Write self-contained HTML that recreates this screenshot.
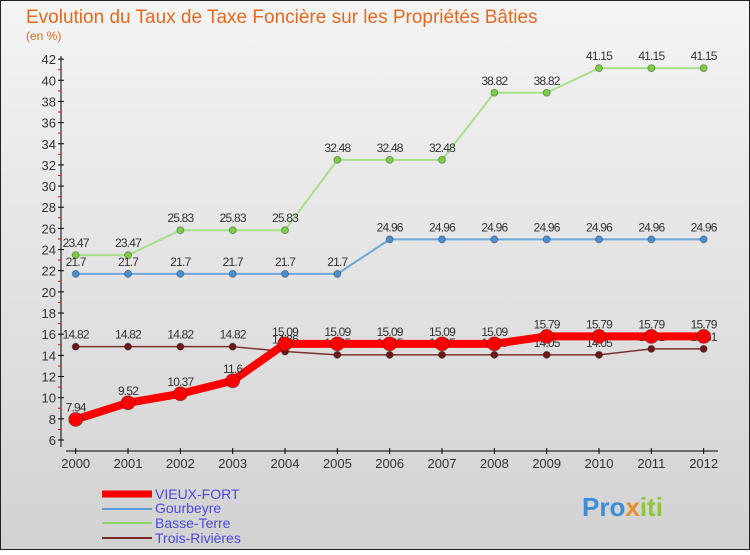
<!DOCTYPE html>
<html><head><meta charset="utf-8"><style>
body{margin:0;width:750px;height:550px;overflow:hidden;font-family:"Liberation Sans",sans-serif}
</style></head><body>
<svg id="c" width="750" height="550" xmlns="http://www.w3.org/2000/svg">
<defs><linearGradient id="bg" x1="0" y1="0" x2="0" y2="1"><stop offset="0" stop-color="#f4f4f4"/><stop offset="1" stop-color="#d2d2d2"/></linearGradient></defs>
<rect x="0.5" y="0.5" width="749" height="549" fill="url(#bg)" stroke="#222"/>
<text x="26" y="23" font-size="19" fill="#e06a1f">Evolution du Taux de Taxe Foncière sur les Propriétés Bâties</text>
<text x="26" y="40" font-size="12" fill="#e06a1f">(en %)</text>
<g id="axes"></g><g id="series"></g>
<g>
<line x1="102" y1="494" x2="152" y2="494" stroke="#f00" stroke-width="7"/>
<text x="155" y="499" font-size="14" fill="#4a4ae0">VIEUX-FORT</text>
<line x1="102" y1="509" x2="152" y2="509" stroke="#5b9bd5" stroke-width="2"/>
<text x="155" y="513" font-size="14" fill="#4a4ae0">Gourbeyre</text>
<line x1="102" y1="523" x2="152" y2="523" stroke="#8fd46a" stroke-width="2"/>
<text x="155" y="528" font-size="14" fill="#4a4ae0">Basse-Terre</text>
<line x1="102" y1="538" x2="152" y2="538" stroke="#7a2a2a" stroke-width="2"/>
<text x="155" y="543" font-size="14" fill="#4a4ae0">Trois-Rivières</text>
</g>
<text x="582" y="516" font-size="26" font-weight="bold" fill="#3a8fd8">Pro<tspan fill="#e8902a">x</tspan><tspan fill="#8cc63e">iti</tspan></text>
</svg>
<script>
const years=[2000,2001,2002,2003,2004,2005,2006,2007,2008,2009,2010,2011,2012];
const vieuxFort=[7.94,9.52,10.37,11.6,15.09,15.09,15.09,15.09,15.09,15.79,15.79,15.79,15.79];
const gourbeyre=[21.7,21.7,21.7,21.7,21.7,21.7,24.96,24.96,24.96,24.96,24.96,24.96,24.96];
const basseTerre=[23.47,23.47,25.83,25.83,25.83,32.48,32.48,32.48,38.82,38.82,41.15,41.15,41.15];
const troisRivieres=[14.82,14.82,14.82,14.82,14.36,14.05,14.05,14.05,14.05,14.05,14.05,14.61,14.61];
const yTicks=[6,8,10,12,14,16,18,20,22,24,26,28,30,32,34,36,38,40,42];
const NS="http://www.w3.org/2000/svg";
const X=i=>75.7+i*52.33, Y=v=>440-(v-6)*10.58;
function mk(t,a,p){const e=document.createElementNS(NS,t);for(const k in a)e.setAttribute(k,a[k]);p.appendChild(e);return e;}
const ax=document.getElementById('axes'), sg=document.getElementById('series');
let l=mk('line',{x1:61,y1:56,x2:61,y2:447,stroke:'#000'},ax);


l=mk('line',{x1:66,y1:451,x2:718,y2:451,stroke:'#000'},ax);


yTicks.forEach((v,i)=>{
  mk('line',{x1:58,x2:64,y1:Y(v),y2:Y(v),stroke:'#000'},ax);
  if(i<yTicks.length-1)mk('line',{x1:58,x2:61,y1:Y(v+1),y2:Y(v+1),stroke:'#f00'},ax);
  const t=mk('text',{x:56,y:Y(v)+5,'font-size':13,fill:'#333','text-anchor':'end'},ax);t.textContent=v;
  
  
});
years.forEach((y,i)=>{
  mk('line',{x1:X(i),x2:X(i),y1:448,y2:454,stroke:'#000'},ax);
  const t=mk('text',{x:X(i),y:468,'font-size':13,fill:'#333','text-anchor':'middle'},ax);t.textContent=y;
  
  
});
function series(d,col,w,r,name,dot){
  const p=mk('polyline',{points:d.map((v,i)=>X(i)+','+Y(v)).join(' '),fill:'none',stroke:col,'stroke-width':w,'stroke-linejoin':'round'},sg);
  
  
  d.forEach((v,i)=>{
    const c=mk('circle',{cx:X(i),cy:Y(v),r:r,fill:dot,stroke:'rgba(0,0,0,0.3)'},sg);
    
    
    const t=mk('text',{x:X(i),y:Y(v)-8,'font-size':12,fill:'#333','text-anchor':'middle','letter-spacing':'-0.8'},sg);
    t.textContent=String(v);
    
    
  });
}
series(basseTerre,'#a8e08a',2,3.5,'basse-terre','#7ccc44');
series(gourbeyre,'#6ea8d8',2,3.5,'gourbeyre','#4a90d0');
series(troisRivieres,'#7a3030',1.5,3.5,'trois-rivieres','#6a1a1a');
series(vieuxFort,'#f00',8,7,'vieux-fort','#f00');
</script>
</body></html>
